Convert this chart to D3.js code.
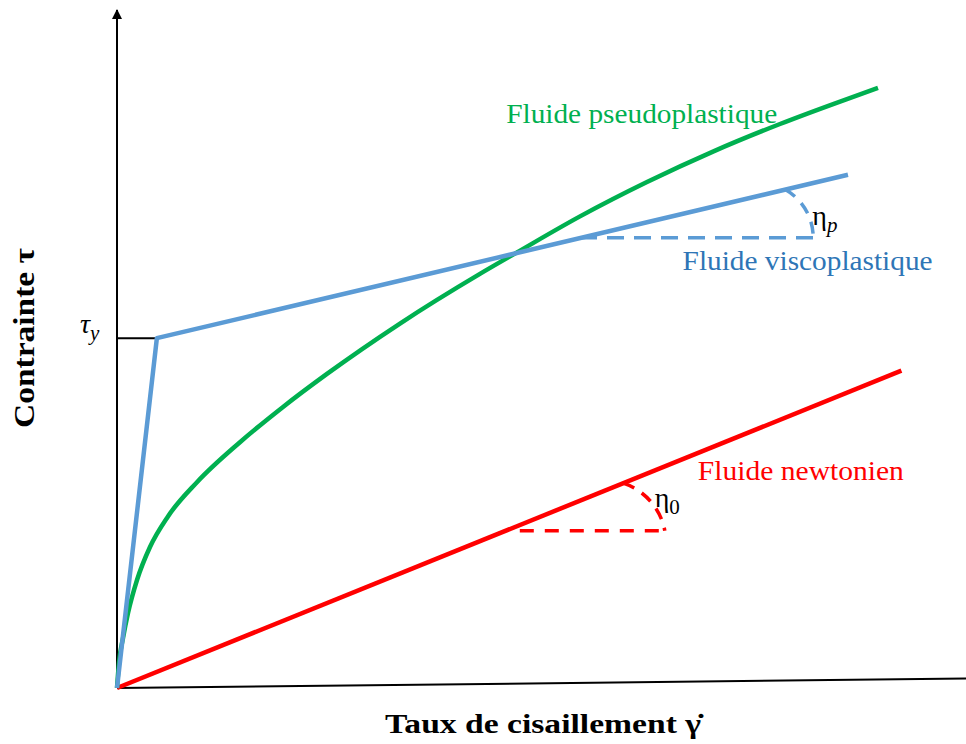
<!DOCTYPE html>
<html>
<head>
<meta charset="utf-8">
<script src="https://cdn.jsdelivr.net/npm/d3@7"></script>
<style>
  body { margin: 0; background: #fff; }
  text { font-family: "Liberation Serif", "Times New Roman", serif; }
</style>
</head>
<body>
<script>
// rheology sketch: shear stress vs shear rate (arbitrary units 0..100)
const greenX = [0, 0.24, 0.71, 1.30, 2.36, 3.89, 6.01, 9.43, 14.50, 19.58, 24.76, 33.37, 42.80, 47.17, 54.60, 62.50, 70.28, 78.18, 86.08, 89.74];
const greenY = [0, 3.83, 7.37, 11.06, 15.93, 20.80, 25.31, 30.35, 36.25, 41.46, 46.33, 53.76, 61.08, 64.25, 69.56, 74.63, 79.12, 83.19, 86.87, 88.50];
const blueX = [0, 4.7, 86.2];
const blueY = [0, 51.6, 75.7];
const redX = [0, 92.5];
const redY = [0, 46.8];

// horizontal reference lines for the slope angles
const blueRefY = 66.4, blueRefX = [54.6, 82.1], blueArcAt = 78.8;
const redRefY = 23.2, redRefX = [47.5, 64.6], redArcAt = 59.7;

const tauY = blueY[1];   // yield stress

const labels = [
  {text: "Fluide pseudoplastique", x: 45.9, y: 83.3, len: 271, color: "#00b050"},
  {text: "Fluide viscoplastique", x: 66.7, y: 61.7, len: 250, color: "#2e75b6"},
  {text: "Fluide newtonien", x: 68.5, y: 30.7, len: 206, color: "#ff0000"}
];

const width = 966, height = 744;

const svg = d3.select("body").append("svg")
  .attr("width", width)
  .attr("height", height);

const x = d3.scaleLinear().domain([0, 100]).range([117, 965]);
const y = d3.scaleLinear().domain([0, 100]).range([688, 10]);

const defs = svg.append("defs");
defs.append("marker")
  .attr("id", "arrow")
  .attr("viewBox", "0 0 10 10")
  .attr("refX", 9).attr("refY", 5)
  .attr("markerWidth", 10).attr("markerHeight", 12)
  .attr("markerUnits", "userSpaceOnUse")
  .attr("orient", "auto")
  .append("path")
  .attr("d", "M0,0 L10,5 L0,10 Z")
  .attr("fill", "#000");

// axes
svg.append("line")
  .attr("x1", x(0)).attr("y1", y(0))
  .attr("x2", x(0)).attr("y2", y(100))
  .attr("stroke", "#000").attr("stroke-width", 2)
  .attr("marker-end", "url(#arrow)");

svg.append("line")
  .attr("x1", x(0)).attr("y1", y(0))
  .attr("x2", x(101.2)).attr("y2", y(1.4))
  .attr("stroke", "#000").attr("stroke-width", 2)
  .attr("marker-end", "url(#arrow)");

// yield stress tick
svg.append("line")
  .attr("x1", x(0)).attr("y1", y(tauY))
  .attr("x2", x(blueX[1])).attr("y2", y(tauY))
  .attr("stroke", "#000").attr("stroke-width", 2);

const line = d3.line().x(d => x(d[0])).y(d => y(d[1]));
const curve = d3.line().x(d => x(d[0])).y(d => y(d[1])).curve(d3.curveMonotoneX);

svg.append("path")
  .datum(redX.map((v, i) => [v, redY[i]]))
  .attr("d", line)
  .attr("fill", "none").attr("stroke", "#ff0000").attr("stroke-width", 4.5);

svg.append("path")
  .datum(greenX.map((v, i) => [v, greenY[i]]))
  .attr("d", curve)
  .attr("fill", "none").attr("stroke", "#00b050").attr("stroke-width", 4.5);

svg.append("path")
  .datum(blueX.map((v, i) => [v, blueY[i]]))
  .attr("d", line)
  .attr("fill", "none").attr("stroke", "#5b9bd5").attr("stroke-width", 4.5)
  .attr("stroke-linejoin", "round");

// value of a polyline at xv
function lineAt(xs, ys, xv) {
  return d3.scaleLinear().domain(xs).range(ys)(xv);
}

function angleMark(xs, ys, refY, refX, arcAt, color, r, dash) {
  svg.append("line")
    .attr("x1", x(refX[0])).attr("y1", y(refY))
    .attr("x2", x(refX[1])).attr("y2", y(refY))
    .attr("stroke", color).attr("stroke-width", 3.5)
    .attr("stroke-dasharray", dash);
  const sx = x(arcAt), sy = y(lineAt(xs, ys, arcAt));
  const ex = x(refX[1]), ey = y(refY);
  svg.append("path")
    .attr("d", `M${sx},${sy} A${r},${r} 0 0 1 ${ex},${ey}`)
    .attr("fill", "none").attr("stroke", color).attr("stroke-width", 3.5)
    .attr("stroke-dasharray", "12,9");
}

angleMark(blueX, blueY, blueRefY, blueRefX, blueArcAt, "#5b9bd5", 55, "17,10");
angleMark(redX, redY, redRefY, redRefX, redArcAt, "#ff0000", 62, "14,11");

// curve labels
svg.selectAll(".lbl")
  .data(labels)
  .join("text")
  .attr("class", "lbl")
  .attr("x", d => x(d.x))
  .attr("y", d => y(d.y))
  .attr("fill", d => d.color)
  .attr("font-size", 28)
  .attr("textLength", d => d.len)
  .attr("lengthAdjust", "spacingAndGlyphs")
  .text(d => d.text);

// greek annotations
function greek(px, py, main, sub, italicMain) {
  const t = svg.append("text")
    .attr("x", px).attr("y", py)
    .attr("font-size", 28)
    .attr("fill", "#000");
  t.append("tspan").attr("font-style", italicMain ? "italic" : "normal").text(main);
  t.append("tspan").attr("font-size", 21).attr("dy", 7)
    .attr("font-style", sub === "0" ? "normal" : "italic").text(sub);
}

greek(x(82.0), y(68.3), "η", "p", false);
greek(x(63.4), y(26.7), "η", "0", false);
greek(80, 333, "τ", "y", true);

// axis titles
svg.append("text")
  .attr("x", 385).attr("y", 733)
  .attr("font-size", 28).attr("font-weight", "bold")
  .attr("textLength", 316)
  .attr("lengthAdjust", "spacingAndGlyphs")
  .text("Taux de cisaillement γ̇");

svg.append("text")
  .attr("transform", "translate(34,428) rotate(-90)")
  .attr("font-size", 29).attr("font-weight", "bold")
  .attr("textLength", 180)
  .attr("lengthAdjust", "spacingAndGlyphs")
  .text("Contrainte τ");
</script>
</body>
</html>
